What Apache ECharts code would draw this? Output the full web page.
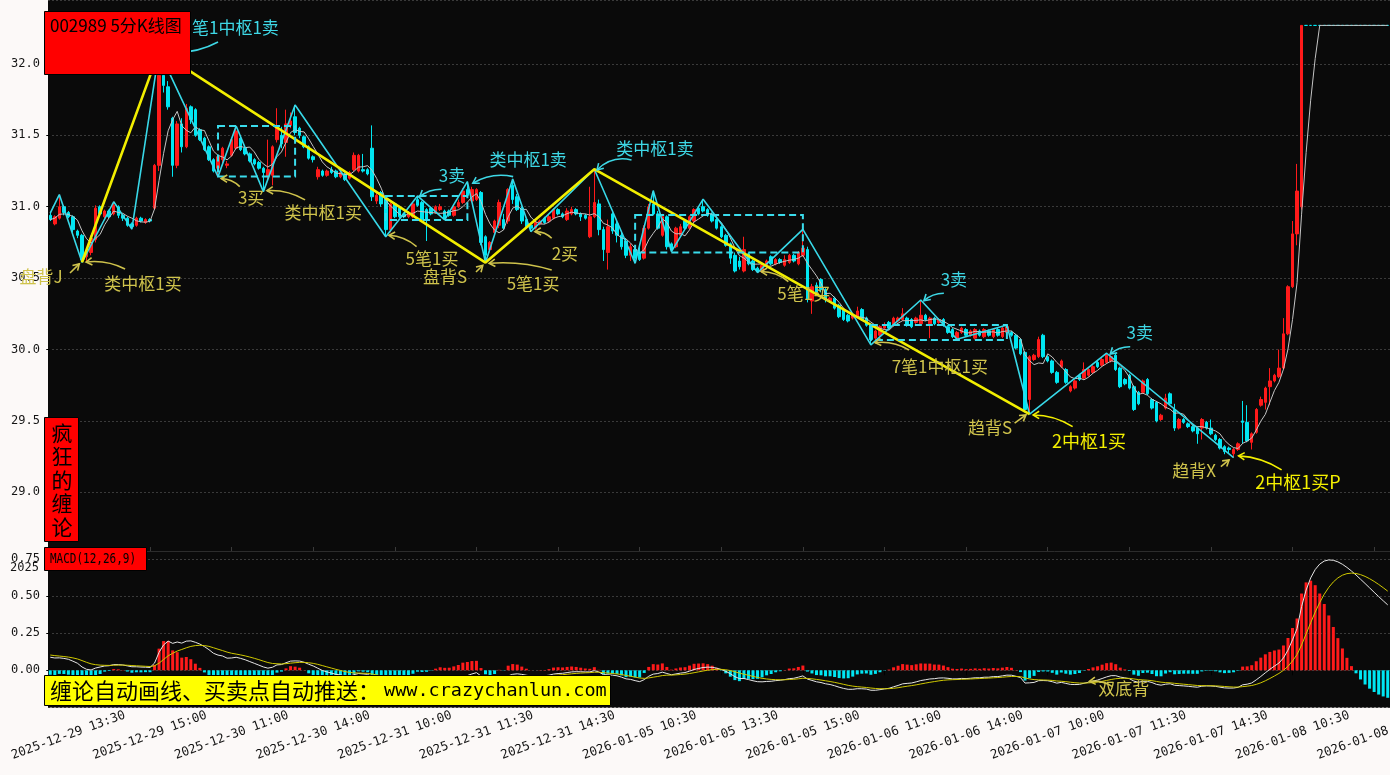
<!DOCTYPE html>
<html><head><meta charset="utf-8">
<script src="https://cdn.jsdelivr.net/npm/echarts@6/dist/echarts.min.js"></script>
<style>html,body{margin:0;padding:0;background:#fcf9f8;}#c{width:1390px;height:775px;}</style>
</head><body><div id="c"></div>
<script>
// ---------- DATA ----------
// candles: [open, close, low, high]
const kData = [
[30.94,30.91,30.90,30.96],[30.88,30.93,30.87,30.94],[30.92,31.00,30.91,31.085],[31.00,30.96,30.94,31.01],[30.96,30.93,30.92,30.97],
[30.93,30.84,30.82,30.94],[30.83,30.80,30.78,30.84],[30.80,30.63,30.611,30.81],[30.65,30.68,30.62,30.70],[30.68,30.78,30.66,30.80],
[30.77,30.99,30.75,31.01],[31.00,30.95,30.93,31.01],[30.93,30.97,30.92,30.98],[30.97,30.93,30.92,30.98],[30.95,31.01,30.94,31.035],
[31.00,30.94,30.92,31.01],[30.94,30.92,30.90,30.95],[30.92,30.87,30.86,30.93],[30.88,30.86,30.843,30.89],[30.87,30.92,30.86,30.93],
[30.92,30.90,30.89,30.93],[30.89,30.91,30.88,30.92],[30.91,30.90,30.89,30.92],
[30.99,31.29,30.98,31.30],[31.29,31.92,31.25,32.09],[31.92,31.85,31.80,31.98],[31.84,31.70,31.68,31.88],[31.62,31.29,31.21,31.63],
[31.29,31.58,31.27,31.60],[31.58,31.42,31.38,31.62],[31.42,31.69,31.41,31.72],[31.70,31.61,31.58,31.71],[31.68,31.50,31.49,31.69],
[31.54,31.47,31.46,31.55],[31.48,31.40,31.39,31.49],[31.42,31.33,31.32,31.43],[31.33,31.25,31.24,31.34],[31.27,31.35,31.211,31.36],
[31.33,31.41,31.30,31.42],[31.29,31.30,31.27,31.32],[31.36,31.47,31.35,31.48],[31.41,31.53,31.40,31.566],[31.48,31.40,31.39,31.50],
[31.41,31.37,31.36,31.42],[31.37,31.32,31.31,31.38],[31.33,31.30,31.29,31.34],[31.31,31.27,31.26,31.32],[31.27,31.24,31.106,31.28],
[31.21,31.26,31.19,31.47],[31.22,31.42,31.15,31.43],[31.47,31.56,31.45,31.69],[31.50,31.44,31.41,31.56],[31.45,31.58,31.35,31.68],
[31.57,31.60,31.55,31.66],[31.63,31.52,31.50,31.713],[31.55,31.50,31.48,31.56],[31.49,31.42,31.41,31.50],[31.42,31.34,31.33,31.43],
[31.35,31.33,31.31,31.36],[31.21,31.26,31.19,31.28],[31.25,31.22,31.21,31.26],[31.22,31.25,31.21,31.26],[31.26,31.24,31.23,31.28],
[31.25,31.21,31.20,31.26],[31.21,31.24,31.20,31.25],[31.23,31.19,31.18,31.24],[31.20,31.24,31.19,31.25],[31.26,31.36,31.25,31.38],
[31.25,31.36,31.24,31.37],[31.26,31.25,31.24,31.37],[31.26,31.23,31.22,31.27],
[31.41,31.07,31.04,31.57],[31.04,31.08,31.02,31.10],[31.10,31.02,31.00,31.11],[31.06,30.84,30.79,31.07],[30.84,31.02,30.82,31.03],
[31.02,30.93,30.92,31.03],[30.99,30.93,30.92,31.00],[30.95,30.93,30.92,30.96],[30.93,30.96,30.92,30.97],[30.93,31.02,30.92,31.03],
[31.05,31.01,31.00,31.076],[31.03,30.91,30.90,31.04],[30.98,30.91,30.76,30.99],[30.99,30.95,30.94,31.00],[30.96,31.00,30.95,31.01],
[30.98,31.00,30.97,31.02],[30.97,30.92,30.908,30.98],[30.97,30.94,30.93,30.98],[30.94,31.00,30.93,31.01],[31.00,31.03,30.99,31.05],
[31.03,31.11,31.02,31.13],[31.12,31.08,31.07,31.176],[31.04,31.12,31.03,31.14],[31.05,31.12,31.04,31.13],[31.10,30.75,30.73,31.11],
[30.79,30.66,30.609,30.80],[30.70,30.75,30.68,30.76],[30.82,30.90,30.80,30.91],[30.87,31.03,30.85,31.05],[30.91,30.85,30.84,30.95],
[30.90,31.12,30.88,31.13],[31.15,31.05,31.02,31.195],[31.07,30.98,30.97,31.09],[30.99,30.90,30.88,31.00],[30.91,30.86,30.85,30.92],
[30.87,30.85,30.826,30.88],[30.85,30.89,30.84,30.90],[30.88,30.90,30.87,30.91],[30.92,30.89,30.88,30.93],[30.90,30.93,30.89,30.95],
[30.92,30.98,30.91,30.99],[30.98,30.95,30.94,30.99],[30.95,30.93,30.92,30.96],[30.91,30.97,30.90,30.99],[30.95,30.98,30.94,31.00],
[30.98,30.95,30.94,30.99],[30.95,30.93,30.90,30.96],[30.94,30.92,30.91,30.95],
[30.79,30.93,30.78,31.14],[30.93,31.03,30.92,31.263],[31.02,30.84,30.80,31.05],[30.84,30.70,30.62,30.86],[30.68,30.86,30.56,30.91],
[30.95,30.83,30.81,30.96],[30.88,30.80,30.75,30.90],[30.80,30.72,30.70,30.82],[30.76,30.66,30.64,30.78],[30.66,30.72,30.62,30.74],
[30.70,30.64,30.604,30.72],[30.68,30.63,30.62,30.72],[30.64,30.85,30.63,30.87],[30.85,31.00,30.84,31.02],[31.02,30.95,30.94,31.113],
[30.95,30.85,30.84,30.97],[30.80,30.93,30.79,30.95],[30.93,30.72,30.70,30.94],[30.74,30.70,30.686,30.75],[30.72,30.85,30.71,30.86],
[30.80,30.86,30.79,30.88],[30.90,30.85,30.84,30.91],[30.85,30.93,30.84,30.94],[30.90,30.98,30.89,30.99],[30.99,30.95,30.94,31.00],
[31.00,30.97,30.96,31.053],[30.98,30.94,30.93,30.99],[30.95,30.90,30.89,30.96],[30.91,30.85,30.84,30.92],[30.86,30.79,30.78,30.87],
[30.80,30.73,30.72,30.81],[30.74,30.64,30.60,30.75],[30.66,30.55,30.54,30.68],[30.62,30.58,30.56,30.65],[30.55,30.70,30.54,30.79],
[30.67,30.60,30.59,30.68],[30.62,30.56,30.55,30.63],[30.57,30.55,30.539,30.58],[30.55,30.59,30.54,30.60],[30.58,30.62,30.57,30.63],
[30.65,30.60,30.59,30.66],[30.60,30.63,30.59,30.64],[30.63,30.61,30.60,30.64],[30.59,30.63,30.58,30.66],[30.61,30.66,30.60,30.67],
[30.66,30.62,30.61,30.67],[30.60,30.68,30.59,30.69],[30.66,30.71,30.65,30.842],
[30.70,30.35,30.33,30.72],[30.34,30.44,30.25,30.46],[30.45,30.40,30.38,30.47],[30.49,30.42,30.40,30.50],[30.42,30.35,30.33,30.43],
[30.34,30.36,30.33,30.37],[30.36,30.29,30.28,30.37],[30.31,30.23,30.22,30.32],[30.28,30.21,30.20,30.29],[30.24,30.20,30.19,30.25],
[30.22,30.24,30.21,30.25],[30.23,30.27,30.22,30.30],[30.28,30.21,30.20,30.29],[30.22,30.17,30.16,30.23],[30.17,30.07,30.032,30.18],
[30.08,30.13,30.06,30.14],[30.10,30.16,30.09,30.17],[30.15,30.17,30.14,30.19],[30.19,30.15,30.14,30.20],[30.17,30.22,30.16,30.23],
[30.20,30.22,30.19,30.23],[30.21,30.25,30.20,30.29],[30.22,30.17,30.16,30.23],[30.21,30.16,30.15,30.22],[30.19,30.22,30.18,30.23],
[30.18,30.24,30.17,30.347],[30.24,30.21,30.20,30.25],[30.18,30.22,30.08,30.23],[30.22,30.18,30.17,30.23],[30.19,30.21,30.18,30.22],
[30.21,30.17,30.16,30.22],[30.16,30.12,30.11,30.17],[30.14,30.09,30.08,30.15],[30.08,30.12,30.072,30.13],[30.12,30.15,30.11,30.16],
[30.14,30.10,30.09,30.15],[30.10,30.13,30.09,30.14],[30.08,30.14,30.07,30.15],[30.13,30.10,30.09,30.14],[30.09,30.14,30.08,30.15],
[30.13,30.10,30.09,30.14],[30.09,30.14,30.08,30.15],[30.14,30.10,30.09,30.15],[30.09,30.15,30.08,30.16],[30.12,30.16,30.11,30.172],
[30.12,30.10,30.09,30.13],[30.10,30.01,30.00,30.11],[30.07,29.97,29.96,30.08],
[29.98,29.58,29.56,29.99],[29.65,29.95,29.547,29.96],[29.93,29.96,29.92,29.97],[29.95,30.07,29.94,30.09],[30.10,29.95,29.94,30.11],
[29.95,29.92,29.91,29.96],[29.92,29.84,29.83,29.93],[29.84,29.77,29.76,29.85],[29.88,29.92,29.87,29.93],[29.86,29.77,29.76,29.87],
[29.71,29.74,29.70,29.75],[29.73,29.78,29.72,29.79],[29.82,29.79,29.78,29.83],[29.80,29.86,29.79,29.91],[29.82,29.86,29.81,29.87],
[29.84,29.88,29.83,29.89],[29.91,29.88,29.87,29.92],[29.89,29.93,29.88,29.94],[29.91,29.96,29.90,29.974],[29.92,29.95,29.91,29.96],
[29.96,29.86,29.85,29.97],[29.87,29.74,29.73,29.88],[29.79,29.76,29.75,29.80],[29.82,29.73,29.72,29.83],[29.74,29.58,29.57,29.75],
[29.70,29.62,29.61,29.71],[29.70,29.78,29.69,29.79],[29.79,29.69,29.68,29.80],[29.65,29.59,29.58,29.66],[29.63,29.50,29.49,29.64],
[29.51,29.54,29.50,29.55],[29.59,29.66,29.58,29.69],[29.69,29.62,29.61,29.70],[29.58,29.45,29.43,29.62],[29.45,29.51,29.44,29.52],
[29.51,29.49,29.48,29.52],[29.48,29.46,29.45,29.49],[29.46,29.43,29.42,29.47],[29.45,29.41,29.34,29.46],[29.45,29.51,29.37,29.52],
[29.49,29.45,29.44,29.50],[29.45,29.41,29.40,29.51],[29.40,29.37,29.36,29.41],[29.37,29.31,29.30,29.38],[29.32,29.285,29.267,29.33],
[29.31,29.30,29.27,29.32],[29.27,29.30,29.243,29.31],[29.30,29.34,29.29,29.35],
[29.50,29.49,29.34,29.64],[29.49,29.36,29.35,29.61],[29.35,29.41,29.30,29.42],[29.42,29.58,29.41,29.59],[29.61,29.65,29.60,29.67],
[29.63,29.73,29.58,29.74],[29.74,29.78,29.61,29.87],[29.78,29.82,29.77,29.83],[29.81,29.87,29.80,30.00],[29.87,30.11,29.86,30.22],
[30.11,30.44,30.10,30.45],[30.44,30.81,30.43,30.90],[30.81,31.11,30.73,31.30],[31.00,32.27,30.98,32.27],
[32.27,32.27,32.27,32.27],[32.27,32.27,32.27,32.27],[32.27,32.27,32.27,32.27],[32.27,32.27,32.27,32.27],[32.27,32.27,32.27,32.27],
[32.27,32.27,32.27,32.27],[32.27,32.27,32.27,32.27],[32.27,32.27,32.27,32.27],[32.27,32.27,32.27,32.27],[32.27,32.27,32.27,32.27],
[32.27,32.27,32.27,32.27],[32.27,32.27,32.27,32.27],[32.27,32.27,32.27,32.27],[32.27,32.27,32.27,32.27],[32.27,32.27,32.27,32.27],
[32.27,32.27,32.27,32.27],[32.27,32.27,32.27,32.27],[32.27,32.27,32.27,32.27],[32.27,32.27,32.27,32.27]
];
// trading days shown, first bar time
const tradeDays = ['2025-12-29','2025-12-30','2025-12-31','2026-01-05','2026-01-06','2026-01-07','2026-01-08'];
const firstBarTime = '13:10';
const labelStart = 4, labelStep = 18;
// bi (stroke) vertices [barIndex, price]
const biPoints = [[0,30.955],[2,31.085],[7,30.611],[14,31.035],[18,30.843],[24,32.09],[37,31.211],[41,31.566],[47,31.106],[54,31.713],
[74,30.79],[81,31.076],[87,30.908],[92,31.176],[96,30.609],[102,31.195],[106,30.826],[120,31.263],[129,30.604],[133,31.113],[137,30.686],
[144,31.053],[156,30.539],[166,30.842],[181,30.032],[192,30.347],[200,30.072],[211,30.172],[216,29.547],[233,29.974],[261,29.243]];
// segment vertices
const segPoints = [[7,30.611],[24,32.09],[96,30.609],[120,31.263],[216,29.547]];
// pivot boxes [fromBar, toBar, top, bottom]
const pivotBoxes = [[37,54,31.566,31.211],[74,92,31.076,30.908],[129,166,30.943,30.679],[181,211,30.172,30.067]];
// annotations: text, kind, text anchor (bar, price), arrow start, arrow end
const notes = [
 ['笔1中枢1卖','sell',31.26,32.252,37.0,32.154,24.5,32.093],
 ['3卖','sell',88.6,31.216,86.3,31.123,81.5,31.072],
 ['类中枢1卖','sell',105.4,31.328,102.1,31.211,93.2,31.165],
 ['类中枢1卖','sell',133.4,31.405,128.2,31.328,120.6,31.258],
 ['3卖','sell',199.3,30.487,197.1,30.394,192.7,30.342],
 ['3卖','sell',240.3,30.116,238.2,30.020,233.8,29.969],
 ['盘背J','buy',-2.05,30.508,4.35,30.536,6.4,30.600],
 ['类中枢1买','buy',20.45,30.459,16.5,30.564,7.9,30.613],
 ['3买','buy',44.3,31.062,41.8,31.141,37.7,31.198],
 ['类中枢1买','buy',60.2,30.957,56.2,31.048,47.8,31.113],
 ['5笔1买','buy',84.2,30.634,80.8,30.721,74.7,30.800],
 ['盘背S','buy',87.1,30.508,93.9,30.543,95.4,30.589],
 ['5笔1买','buy',106.5,30.459,110.6,30.557,96.8,30.604],
 ['2买','buy',113.5,30.669,110.6,30.779,106.9,30.826],
 ['5笔1买','buy',166.2,30.389,162.8,30.476,156.8,30.546],
 ['7笔1中枢1买','buy',196.2,29.878,189.4,29.997,181.9,30.048],
 ['趋背S','buy',207.3,29.451,212.7,29.484,215.2,29.542],
 ['2中枢1买','strong',229.1,29.360,225.5,29.460,216.8,29.542],
 ['趋背X','buy',252.3,29.150,258.2,29.180,260.0,29.227],
 ['2中枢1买P','strong',275.2,29.073,271.6,29.157,262.1,29.255]
];
const macdNotes = [['双底背','buy',236.8,-0.126,234.2,-0.108,229.2,-0.075]];
const noteBends = [-10,4,8,10,4,4,0,6,4,6,5,0,6,4,5,6,0,6,0,6];
const macdSeed = {dif:0.088, dea:0.103};
const maPeriod = 5;

// ---------- derived ----------
const slots = [];
for (let t = 9*60+35; t <= 11*60+30; t += 5) slots.push(t);
for (let t = 13*60+5; t <= 15*60; t += 5) slots.push(t);
const fmtT = t => String(Math.floor(t/60)).padStart(2,'0') + ':' + String(t%60).padStart(2,'0');
const categories = [];
tradeDays.forEach((d, di) => {
  slots.forEach(t => {
    if (di === 0 && fmtT(t) < firstBarTime) return;
    if (categories.length < kData.length) categories.push(d + ' ' + fmtT(t));
  });
});
const N = kData.length;
const closes = kData.map(r => r[1]);
const ma = closes.map((c, i) => { const s = Math.max(0, i-maPeriod+1); let sum = 0; for (let j=s;j<=i;j++) sum += closes[j]; return +(sum/(i-s+1)).toFixed(4); });
let e12 = closes[0], e26 = closes[0]-macdSeed.dif, dea = macdSeed.dea;
const difArr = [], deaArr = [], histArr = [];
closes.forEach((c, i) => {
  if (i > 0) { e12 = (2*c + 11*e12)/13; e26 = (2*c + 25*e26)/27; }
  const dif = e12 - e26;
  if (i > 0) dea = (2*dif + 8*dea)/10;
  difArr.push(+dif.toFixed(4)); deaArr.push(+dea.toFixed(4)); histArr.push(+(2*(dif-dea)).toFixed(4));
});

// ---------- styles ----------
const RED = '#ff1a1a', CY = '#00e6f2', LINECY = '#38d8e8', YEL = '#f2ee00';
const noteColor = {sell:'#3ed8e6', buy:'#cfc34c', strong:'#f4f000'};
const CJK = '"Noto Sans CJK SC","Noto Sans",sans-serif';
const MONO = '"DejaVu Sans Mono","Liberation Mono",monospace';

const candleItems = kData.map((r, i) => {
  if (r[0] === r[1] && r[2] === r[3]) return {value: r, itemStyle:{color:CY,color0:CY,borderColor:CY,borderColor0:CY}};
  return r;
});

function noteRenderer(list, bends) {
  return function (params, api) {
    const a = list[params.dataIndex];
    const col = noteColor[a[1]];
    const t = api.coord([a[2], a[3]]);
    const s = api.coord([a[4], a[5]]);
    const e = api.coord([a[6], a[7]]);
    const bend = bends ? bends[params.dataIndex] : 5;
    const dx = e[0]-s[0], dy = e[1]-s[1];
    const len = Math.hypot(dx, dy) || 1;
    const cx = (s[0]+e[0])/2 + (-dy/len)*bend, cy = (s[1]+e[1])/2 + (dx/len)*bend;
    const ang = Math.atan2(e[1]-cy, e[0]-cx);
    const hl = 7, ha = 0.55;
    const h1 = [e[0]-hl*Math.cos(ang-ha), e[1]-hl*Math.sin(ang-ha)];
    const h2 = [e[0]-hl*Math.cos(ang+ha), e[1]-hl*Math.sin(ang+ha)];
    const left = a[0] === '笔1中枢1卖';
    const fs = a[1] === 'strong' ? 18 : 17;
    return {type:'group', children:[
      {type:'bezierCurve', shape:{x1:s[0],y1:s[1],x2:e[0],y2:e[1],cpx1:cx,cpy1:cy}, style:{stroke:col,lineWidth:1.6,fill:null}},
      {type:'polyline', shape:{points:[h1,e,h2]}, style:{stroke:col,lineWidth:1.6,fill:null}},
      {type:'text', style:{text:a[0], x:t[0], y:t[1], fill:col, fontSize:fs, fontFamily:CJK, align:left?'left':'center', verticalAlign:'middle'}}
    ]};
  };
}

const chart = echarts.init(document.getElementById('c'), null, {width:1390, height:775});
const labelIdx = (i) => i >= labelStart && (i - labelStart) % labelStep === 0;
chart.setOption({
  animation:false,
  backgroundColor:'#fcf9f8',
  grid:[
    {left:48, right:0, top:0, height:551, show:true, backgroundColor:'#0a0a0a', borderWidth:0, outerBoundsMode:'none', containLabel:false},
    {left:48, right:0, top:551, height:156.4, show:true, backgroundColor:'#0a0a0a', borderWidth:0, outerBoundsMode:'none', containLabel:false}
  ],
  xAxis:[
    {type:'category', gridIndex:0, data:categories, boundaryGap:true,
      axisLine:{show:true, lineStyle:{color:'#2c2c2c', width:1}},
      axisTick:{show:true, inside:true, alignWithLabel:true, interval:labelIdx, length:4, lineStyle:{color:'#3a3a3a'}},
      axisLabel:{show:false}, splitLine:{show:false}},
    {type:'category', gridIndex:1, data:categories, boundaryGap:true, axisLine:{show:false},
      axisTick:{show:true, alignWithLabel:true, interval:labelIdx, length:5, lineStyle:{color:'#000'}},
      axisLabel:{interval:labelIdx, rotate:20, align:'center', verticalAlign:'middle', margin:28, fontFamily:MONO, fontSize:12.5, color:'#151515', hideOverlap:false},
      splitLine:{show:false}},
    {type:'value', gridIndex:0, min:-0.5, max:N-0.5, show:false},
    {type:'value', gridIndex:1, min:-0.5, max:N-0.5, show:false}
  ],
  yAxis:[
    {type:'value', gridIndex:0, min:28.589, max:32.448, splitNumber:8, scale:true,
      axisLine:{show:false}, axisTick:{show:true, length:4, lineStyle:{color:'#000'}},
      axisLabel:{showMinLabel:false, showMaxLabel:false, margin:8, fontFamily:MONO, fontSize:12, color:'#151515', formatter:v=>v.toFixed(1)},
      splitLine:{show:true, lineStyle:{color:'#3a3a3a', type:[2,2], width:1}}},
    {type:'value', gridIndex:1, min:-0.25, max:0.804, interval:0.25,
      axisLine:{show:false}, axisTick:{show:true, length:4, lineStyle:{color:'#000'}},
      axisLabel:{showMinLabel:false, showMaxLabel:false, margin:8, fontFamily:MONO, fontSize:12, color:'#151515', formatter:v=>v.toFixed(2)},
      splitLine:{show:true, lineStyle:{color:'#3a3a3a', type:[2,2], width:1}}}
  ],
  series:[
    {type:'candlestick', xAxisIndex:0, yAxisIndex:0, data:candleItems, barWidth:3,
      itemStyle:{color:RED, color0:CY, borderColor:RED, borderColor0:CY, borderWidth:1}, z:2},
    {type:'line', xAxisIndex:0, yAxisIndex:0, data:ma, symbol:'none', lineStyle:{color:'#c4c4c4', width:1}, z:3},
    {type:'line', xAxisIndex:2, yAxisIndex:0, data:biPoints, symbol:'none', lineStyle:{color:LINECY, width:1.6}, z:4},
    {type:'line', xAxisIndex:2, yAxisIndex:0, data:segPoints, symbol:'none', lineStyle:{color:YEL, width:2.6}, z:5},
    {type:'custom', xAxisIndex:2, yAxisIndex:0, data:pivotBoxes, z:6,
      encode:{x:[0,1], y:[2,3]},
      renderItem:(params, api) => {
        const p1 = api.coord([api.value(0), api.value(2)]);
        const p2 = api.coord([api.value(1), api.value(3)]);
        return {type:'rect', shape:{x:p1[0], y:p1[1], width:p2[0]-p1[0], height:p2[1]-p1[1]},
          style:{fill:null, stroke:'#3adcec', lineWidth:2, lineDash:[7,4]}};
      }},
    {type:'custom', xAxisIndex:2, yAxisIndex:0, data:notes.map(a => [a[2], a[3]]), z:7, clip:false,
      encode:{x:0, y:1}, renderItem:noteRenderer(notes, noteBends)},
    {type:'bar', xAxisIndex:1, yAxisIndex:1, data:histArr, barWidth:3,
      itemStyle:{color:p => p.value >= 0 ? RED : CY}, z:2},
    {type:'line', xAxisIndex:1, yAxisIndex:1, data:difArr, symbol:'none', lineStyle:{color:'#e6e6e6', width:1}, z:3},
    {type:'line', xAxisIndex:1, yAxisIndex:1, data:deaArr, symbol:'none', lineStyle:{color:'#cfc800', width:1}, z:3},
    {type:'custom', xAxisIndex:3, yAxisIndex:1, data:macdNotes.map(a => [a[2], a[3]]), z:7, clip:false,
      encode:{x:0, y:1}, renderItem:noteRenderer(macdNotes, [4])}
  ],
  graphic:[
    {type:'rect', z:100, shape:{x:44.5, y:11.5, width:146, height:63}, style:{fill:'#ff0000', stroke:'#000', lineWidth:1}},
    {type:'text', z:101, style:{text:'002989 5分K线图', x:50, y:26, fill:'#000', fontSize:17, fontFamily:CJK, verticalAlign:'middle'}},
    {type:'rect', z:100, shape:{x:44.5, y:417.5, width:34, height:124}, style:{fill:'#ff0000', stroke:'#000', lineWidth:1}},
    {type:'text', z:101, style:{text:'疯\n狂\n的\n缠\n论', x:62, y:421, fill:'#000', fontSize:21, lineHeight:23.5, fontFamily:CJK, align:'center', verticalAlign:'top'}},
    {type:'rect', z:100, shape:{x:44.5, y:547.5, width:102, height:23}, style:{fill:'#ff0000', stroke:'#000', lineWidth:1}},
    {type:'text', z:101, x:50, y:559.5, scaleY:1.3, style:{text:'MACD(12,26,9)', x:0, y:0, fill:'#000', fontSize:11, fontFamily:MONO, verticalAlign:'middle'}},
    {type:'text', z:101, style:{text:'2025', x:10, y:568, fill:'#151515', fontSize:12, fontFamily:MONO, verticalAlign:'middle'}},
    {type:'rect', z:100, shape:{x:44.5, y:675.5, width:566, height:30}, style:{fill:'#ffff00', stroke:'#000', lineWidth:1}},
    {type:'text', z:101, style:{text:'缠论自动画线、买卖点自动推送：', x:50, y:691, fill:'#000', fontSize:22, fontFamily:CJK, verticalAlign:'middle'}},
    {type:'text', z:101, style:{text:'www.crazychanlun.com', x:384, y:691, fill:'#000', fontSize:18.5, fontFamily:MONO, verticalAlign:'middle'}}
  ]
});
</script>
</body></html>
